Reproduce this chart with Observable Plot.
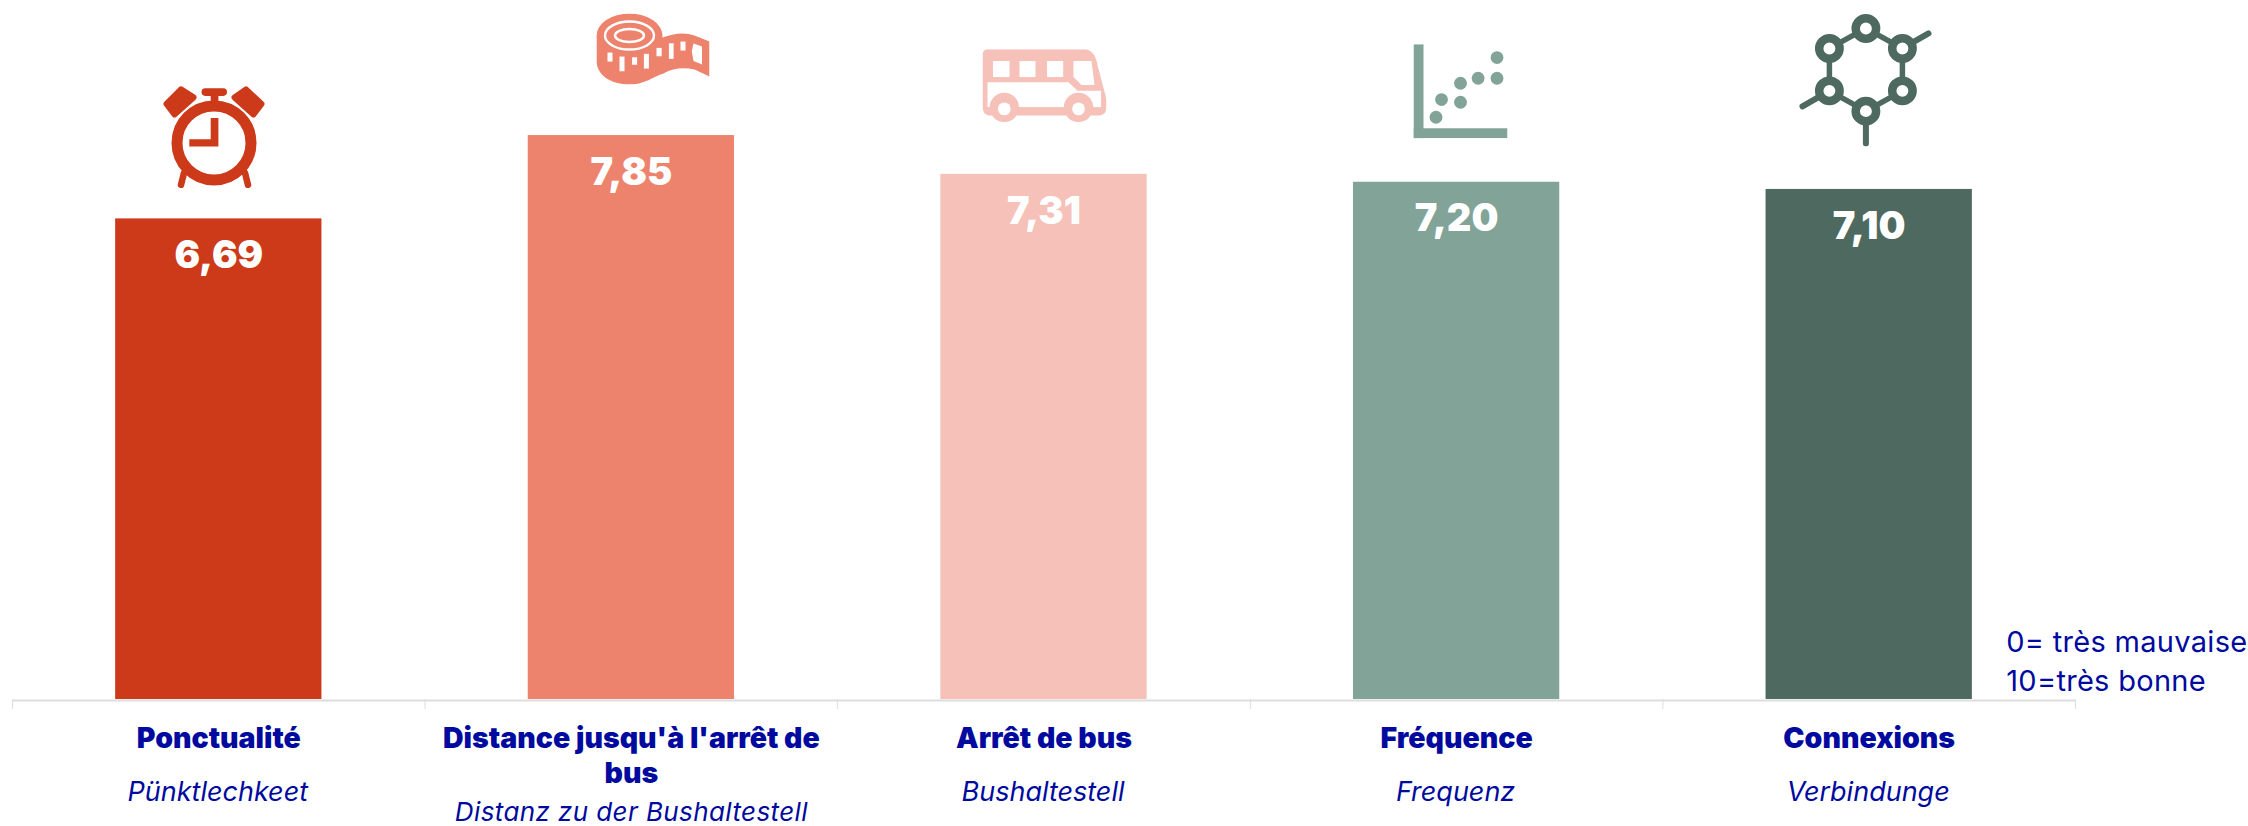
<!DOCTYPE html>
<html lang="fr">
<head>
<meta charset="utf-8">
<script src="https://cdn.jsdelivr.net/npm/d3@7"></script>
<script src="https://cdn.jsdelivr.net/npm/@observablehq/plot@0.6"></script>
<style>
html,body{margin:0;padding:0;background:#fff;overflow:hidden}
svg{display:block;max-width:none}
.spaced-label text{letter-spacing:0.4px}
.spaced-legend text{letter-spacing:0.3px}
</style>
</head>
<body>
<div id="chart"></div>
<script>
const categories = ["Ponctualité", "Distance jusqu'à l'arrêt de\nbus", "Arrêt de bus", "Fréquence", "Connexions"];
const translations = ["Pünktlechkeet", "Distanz zu der Bushaltestell", "Bushaltestell", "Frequenz", "Verbindunge"];
const values = [6.69, 7.85, 7.31, 7.20, 7.10];
const valueLabels = ["6,69", "7,85", "7,31", "7,20", "7,10"];
const colors = ["#cc3a19", "#ee836d", "#f5c1b8", "#82a398", "#4e6960"];
const legendLines = ["0= très mauvaise", "10=très bonne"];

const rows = categories.map((c, i) => ({c, t: translations[i], v: values[i], l: valueLabels[i], f: colors[i]}));
const navy = "#000a9e";
const W = 2248, H = 826, ML = 12, MR = 173, MB = 127;
const step = (W - ML - MR) / 5;
const sansFont = "Inter, 'Noto Sans', sans-serif";

const uri = (w, h, body) => "data:image/svg+xml," + encodeURIComponent(
  `<svg xmlns="http://www.w3.org/2000/svg" width="${w}" height="${h}" viewBox="0 0 ${w} ${h}">${body}</svg>`);

const c0 = colors[0], c1 = colors[1], c2 = colors[2], c3 = colors[3], c4 = colors[4];
const icons = [
  {w: 102, h: 102, dx: -4.8, dy: -82, body: `
    <circle cx="51" cy="57" r="37" fill="#fff" stroke="${c0}" stroke-width="11"/>
    <path d="M47.7 32H55.4V60.7H26.3V53.3H47.7Z" fill="${c0}"/>
    <rect x="38.5" y="2.3" width="25.5" height="7.7" rx="3.8" fill="${c0}"/>
    <rect x="47.7" y="8" width="7.7" height="10" fill="${c0}"/>
    <path d="M18 3.5L30.5 11.5L11.5 28.5L3.5 18Z" fill="${c0}" stroke="${c0}" stroke-width="6" stroke-linejoin="round"/>
    <path d="M83 3.5L71.5 11.5L90.5 28.5L98.5 18Z" fill="${c0}" stroke="${c0}" stroke-width="6" stroke-linejoin="round"/>
    <path d="M21 87L18 99M82 87L85 99" stroke="${c0}" stroke-width="6.5" stroke-linecap="round" fill="none"/>`},
  {w: 113, h: 71, dx: 21.6, dy: -86.5, body: `
    <path d="M0 22V47C0 62 15 71 33 71C48 71 57 63 67 60C77 54 88 54 98 56L113 63V28L98 22C88 18 76 20 66 24Z" fill="${c1}"/>
    <ellipse cx="33" cy="22" rx="33" ry="22" fill="${c1}"/>
    <ellipse cx="33" cy="22" rx="24.5" ry="14" fill="none" stroke="#fff" stroke-width="2.4"/>
    <ellipse cx="33" cy="22" rx="14.5" ry="6.5" fill="none" stroke="#fff" stroke-width="2.4"/>
    <g fill="#fff">
      <rect x="11" y="39" width="5" height="9"/><rect x="23" y="43" width="5" height="14.7"/>
      <rect x="35.6" y="43.7" width="5" height="7.5"/><rect x="47.4" y="40.3" width="5" height="14.7"/>
      <rect x="60" y="34.3" width="5.2" height="8.4"/><rect x="72.4" y="29.7" width="4.7" height="15.6"/>
      <rect x="84" y="28" width="5" height="9"/><path d="M97 30L105.5 33V51L97 47.5L95.3 38Z"/>
    </g>`},
  {w: 124, h: 73, dx: 0.5, dy: -88.5, body: `
    <path d="M6 0H102C110 0 114 8 115 16L124 50V58C124 63 121 66 117 66H7C2 66 0 62 0 56V6C0 2 2 0 6 0Z" fill="${c2}"/>
    <g fill="#fff">
      <rect x="10.5" y="11.7" width="16.5" height="16"/><rect x="37" y="11.7" width="16" height="16"/>
      <rect x="64.5" y="11.7" width="16.2" height="16"/><path d="M91 11.7H109L112 35.7H99L91 27.7Z"/>
      <path d="M5 33H86L95 41.4H118.6V58H5Z"/>
    </g>
    <rect x="5" y="58" width="113" height="8" fill="${c2}"/>
    <circle cx="21.8" cy="58" r="14.7" fill="${c2}"/><circle cx="96" cy="58" r="14.7" fill="${c2}"/>
    <circle cx="21.8" cy="59.5" r="6.4" fill="#fff"/><circle cx="96" cy="59.5" r="6.4" fill="#fff"/>`},
  {w: 94, h: 94, dx: 3.9, dy: -91, body: `
    <g fill="${c3}"><rect x="0" y="0" width="10" height="94"/><rect x="0" y="84" width="94" height="10"/>
      <circle cx="22.5" cy="73" r="6.4"/><circle cx="28" cy="55.3" r="6.4"/><circle cx="47" cy="58" r="6.4"/>
      <circle cx="47" cy="39" r="6.4"/><circle cx="64.6" cy="34" r="6.4"/><circle cx="83.5" cy="34" r="6.4"/><circle cx="83.5" cy="13.3" r="6.4"/></g>`},
  {w: 134, h: 133, dx: -3.7, dy: -109.5, body: `
    <path d="M67.4 15L103.9 35V77.4L67.4 97.7L30.9 77.4V35Z" fill="none" stroke="${c4}" stroke-width="5.5"/>
    <path d="M103.9 35L130 20M30.9 77.4L4 93M67.4 97.7V130" fill="none" stroke="${c4}" stroke-width="6" stroke-linecap="round"/>
    <g fill="#fff" stroke="${c4}" stroke-width="8.5">
      <circle cx="67.4" cy="15" r="10.2"/><circle cx="103.9" cy="35" r="10.2"/><circle cx="103.9" cy="77.4" r="10.2"/>
      <circle cx="67.4" cy="97.7" r="10.2"/><circle cx="30.9" cy="77.4" r="10.2"/><circle cx="30.9" cy="35" r="10.2"/></g>`}
];

const iconMarks = icons.map((ic, i) => Plot.image([rows[i]], {
  x: "c", y: "v", src: () => uri(ic.w, ic.h, ic.body), width: ic.w, height: ic.h, dx: ic.dx, dy: ic.dy
}));

const chart = Plot.plot({
  width: W, height: H,
  marginTop: 0, marginLeft: ML, marginRight: MR, marginBottom: MB,
  style: {background: "#fff", overflow: "visible"},
  x: {domain: categories, paddingInner: 0.5, paddingOuter: 0.25, round: false, axis: null, label: null},
  y: {domain: [0, 9.73], axis: null, label: null},
  marks: [
    Plot.barY(rows, {x: "c", y: "v", fill: "f"}),
    Plot.ruleY([0], {stroke: "#dddddd", strokeWidth: 2, dy: 1}),
    Plot.axisX({ticks: categories, tickSize: 10, tickFormat: () => "", stroke: "#dddddd", dx: -step / 2, label: null}),
    Plot.axisX({ticks: categories.slice(-1), tickSize: 10, tickFormat: () => "", stroke: "#dddddd", dx: step / 2, label: null}),
    Plot.text(rows, {x: "c", y: "v", text: "l", fill: "#fff", dy: 37, fontSize: 38, fontWeight: 900, fontFamily: sansFont}),
    Plot.text(rows, {x: "c", y: 0, text: "c", fill: navy, dy: 23, lineAnchor: "top", textAnchor: "middle", lineHeight: 1.25, fontSize: 28.5, fontWeight: 900, fontFamily: sansFont}),
    Plot.text(rows.filter((d, i) => i !== 1), {x: "c", y: 0, text: "t", fill: navy, dx: -1, dy: 93, fontSize: 27, fontStyle: "italic", fontFamily: sansFont}),
    Plot.text(rows.filter((d, i) => i === 1), {x: "c", y: 0, text: "t", fill: navy, dy: 113.5, fontSize: 26, fontStyle: "italic", fontFamily: sansFont, className: "spaced-label"}),
    Plot.text([legendLines[0]], {x: () => categories[4], y: [0], text: d => d, fill: navy, dx: 137, dy: -57, textAnchor: "start", fontSize: 29, fontFamily: sansFont, className: "spaced-legend"}),
    Plot.text([legendLines[1]], {x: () => categories[4], y: [0], text: d => d, fill: navy, dx: 137, dy: -18, textAnchor: "start", fontSize: 29, fontFamily: sansFont, className: "spaced-legend"}),
    ...iconMarks
  ]
});
document.getElementById("chart").append(chart);
</script>
</body>
</html>
